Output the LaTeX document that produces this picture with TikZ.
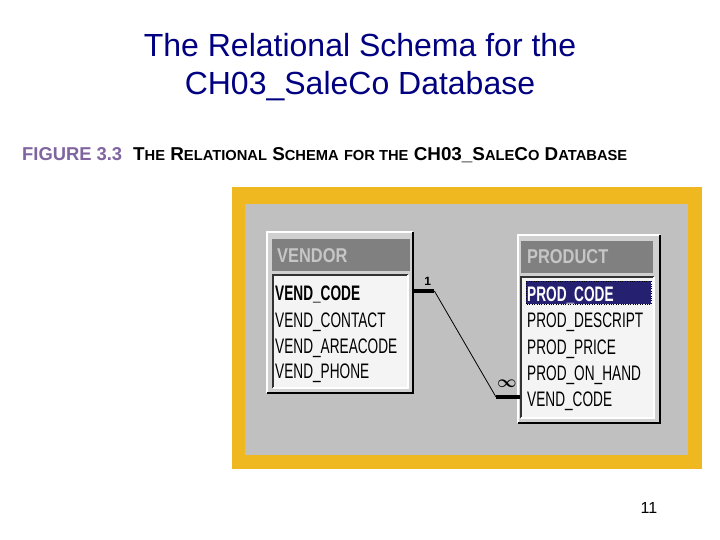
\documentclass[tikz,border=0pt]{standalone}
\usepackage{amsmath,amssymb}
\usepackage{fontspec}
\setmainfont{Liberation Sans}
\usetikzlibrary{calc}
\definecolor{titlenavy}{RGB}{0,0,128}
\definecolor{figpurple}{RGB}{128,100,160}
\definecolor{frameyellow}{RGB}{240,184,32}
\definecolor{panelgray}{RGB}{192,192,192}
\definecolor{boxgray}{RGB}{208,208,208}
\definecolor{bargray}{RGB}{128,128,128}
\definecolor{bartxt}{RGB}{198,198,198}
\definecolor{listwhite}{RGB}{244,244,244}
\definecolor{selnavy}{RGB}{38,32,112}
\newcommand{\fld}[1]{\scalebox{0.65}[1]{\fontsize{21}{21}\selectfont #1}}
\newcommand{\bartitle}[1]{\scalebox{0.82}[1]{\fontsize{20}{20}\selectfont\bfseries #1}}
\newcommand{\smcap}[1]{{\fontsize{7.8}{8}\selectfont #1}}

\begin{document}
\begin{tikzpicture}[x=1pt,y=-1pt,
  field/.style={anchor=base west, inner xsep=7pt, inner ysep=4pt, text height=18pt, text depth=0pt, align=left},
  bar/.style={anchor=base west, inner sep=0pt, text=bartxt},
  stub/.style={line width=3.5pt},
  lite/.style={white, line width=1.5pt},
  dark/.style={black, line width=2pt}]
\useasboundingbox (0,0) rectangle (720,540);
\fill[white] (0,0) rectangle (720,540);

\node[anchor=base, text=titlenavy, font=\fontsize{32}{32}\selectfont] (title1) at (360,57) {The Relational Schema for the};
\node[anchor=base, text=titlenavy, font=\fontsize{32}{32}\selectfont] (title2) at (360,95) {CH03\_SaleCo Database};

\node[anchor=base west, inner sep=0pt, text=figpurple] (fignum) at (22,161) {\resizebox{100pt}{13pt}{\bfseries FIGURE 3.3}};
\node[anchor=base west, inner sep=0pt] (figcap) at (133,161) {\resizebox{494pt}{13pt}{\bfseries T\smcap{HE} R\smcap{ELATIONAL} S\smcap{CHEMA} \smcap{FOR THE} CH03\_S\smcap{ALE}C\smcap{O} D\smcap{ATABASE}}};

% panel
\fill[frameyellow] (232,187) rectangle (702,469);
\fill[panelgray] (245,204) rectangle (688,455);

% VENDOR table
\fill[boxgray] (267,232) rectangle (413,393);
\draw[lite] (267,393) -- (267,232) -- (413,232);
\draw[dark] (267,393) -- (413,393) -- (413,232);
\fill[bargray] (272,239) rectangle (410,271);
\fill[listwhite] (273,275) rectangle (408,388);
\draw[black!80, line width=1.5pt] (273,388) -- (273,275) -- (408,275);
\draw[lite] (273,388) -- (408,388) -- (408,275);
\node[bar] (vtitle) at (277,262) {\bartitle{VENDOR}};
\node[field, text width=130pt] (vcode) at (268,300) {\fld{\bfseries VEND\_CODE}};
\node[field, text width=130pt] (vcontact) at (268,327) {\fld{VEND\_CONTACT}};
\node[field, text width=130pt] (varea) at (268,353) {\fld{VEND\_AREACODE}};
\node[field, text width=130pt] (vphone) at (268,378) {\fld{VEND\_PHONE}};

% PRODUCT table
\fill[boxgray] (518,235) rectangle (660,423);
\draw[lite] (518,423) -- (518,235) -- (660,235);
\draw[dark] (518,423) -- (660,423) -- (660,235);
\fill[bargray] (521,241) rectangle (653,273);
\fill[listwhite] (521,277) rectangle (654,418);
\draw[black!80, line width=1.5pt] (521,418) -- (521,277) -- (654,277);
\draw[lite] (521,418) -- (654,418) -- (654,277);
\node[bar] (ptitle) at (527,263) {\bartitle{PRODUCT}};
\fill[selnavy] (526,281) rectangle (651,304);
\draw[black, dotted] (526,281) rectangle (651,304);
\node[field, text width=126pt, text=white] (pcode) at (520,301) {\fld{\bfseries PROD\_CODE}};
\node[field, text width=126pt] (pdesc) at (520,327) {\fld{PROD\_DESCRIPT}};
\node[field, text width=126pt] (pprice) at (520,354) {\fld{PROD\_PRICE}};
\node[field, text width=126pt] (phand) at (520,380) {\fld{PROD\_ON\_HAND}};
\node[field, text width=126pt] (pvcode) at (520,406) {\fld{VEND\_CODE}};

% relationship
\draw[stub] (vcode.east) -- ++(22,0) node[pos=0.7, above=4pt, inner sep=0pt, font=\bfseries\fontsize{12}{12}\selectfont] {1};
\draw[stub] (pvcode.west) -- ++(-24,0) node[pos=0.55, above=8pt, inner sep=0pt] {\scalebox{1.7}{$\boldsymbol{\infty}$}};
\draw[line width=0.8pt] ([xshift=22pt]vcode.east) -- ([xshift=-24pt]pvcode.west);

\node[anchor=base, font=\fontsize{16}{16}\selectfont] (pagenum) at (649,513) {11};
\end{tikzpicture}
\end{document}
